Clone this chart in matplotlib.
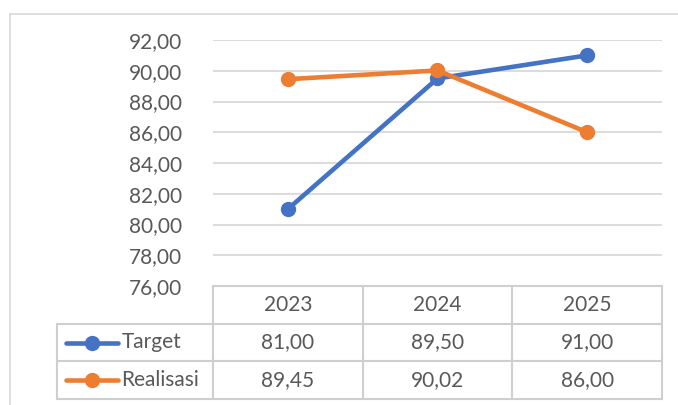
import matplotlib
import matplotlib.pyplot as plt
from matplotlib.lines import Line2D
import numpy as np

plt.rcParams['font.family'] = ['Lato', 'DejaVu Sans']

years = ['2023', '2024', '2025']
target = [81.00, 89.50, 91.00]
realisasi = [89.45, 90.02, 86.00]
series_names = ['Target', 'Realisasi']
colors = ['#4472C4', '#ED7D31']
yticks = np.arange(76, 93, 2)

W, H = 678, 405
txt = '#595959'
grid = '#D9D9D9'
fs = 15


def fmt(v):
    return '{:.2f}'.format(v).replace('.', ',')


fig = plt.figure(figsize=(W / 100, H / 100), dpi=100)

# outer chart frame (top and left edge visible)
fig.add_artist(Line2D([10 / W, 1], [1 - 14 / H] * 2, color=grid, lw=1.2))
fig.add_artist(Line2D([10 / W] * 2, [0, 1 - 14 / H], color=grid, lw=1.2))

# main plot
px0, px1, py0, py1 = 213, 662, 40, 286
ax = fig.add_axes([px0 / W, 1 - py1 / H, (px1 - px0) / W, (py1 - py0) / H])
x = np.arange(len(years))
for vals, c in zip([target, realisasi], colors):
    ax.plot(x, vals, color=c, lw=3.3, marker='o', ms=10, solid_capstyle='round', zorder=3)
ax.set_xlim(-0.5, len(years) - 0.5)
ax.set_ylim(76, 92)
ax.set_yticks(yticks)
ax.set_yticklabels([fmt(v) for v in yticks], color=txt, fontsize=fs)
ax.tick_params(axis='y', length=0, pad=22)
ax.set_xticks([])
for s in ax.spines.values():
    s.set_visible(False)
ax.grid(axis='y', color=grid, lw=1.3)
ax.set_axisbelow(True)

# data table
tx0, ty0, ty1 = 57, 286, 399
colw = (px1 - px0) / len(years)
left = -0.5 - (px0 - tx0) / colw
tab = fig.add_axes([tx0 / W, 1 - ty1 / H, (px1 - tx0) / W, (ty1 - ty0) / H])
tab.set_xlim(left, len(years) - 0.5)
tab.set_ylim(3, 0)
tab.axis('off')
lc = '#CFCFCF'
lw = 1.5
# horizontal lines
tab.plot([-0.5, len(years) - 0.5], [0, 0], color=lc, lw=lw, clip_on=False)
for r in [1, 2, 3]:
    tab.plot([left, len(years) - 0.5], [r, r], color=lc, lw=lw, clip_on=False)
# vertical lines
tab.plot([left, left], [1, 3], color=lc, lw=lw, clip_on=False)
for i in range(len(years) + 1):
    tab.plot([i - 0.5, i - 0.5], [0, 3], color=lc, lw=lw, clip_on=False)

for i, yr in enumerate(years):
    tab.text(i, 0.5, yr, ha='center', va='center', color=txt, fontsize=fs)
for r, (name, vals, c) in enumerate(zip(series_names, [target, realisasi], colors), start=1):
    kx = left + 0.06
    tab.plot([kx, kx + 0.35], [r + 0.5, r + 0.5], color=c, lw=3.3, solid_capstyle='round')
    tab.plot([kx + 0.175], [r + 0.5], color=c, marker='o', ms=10)
    tab.text(kx + 0.37, r + 0.5, name, ha='left', va='center', color=txt, fontsize=fs)
    for i, v in enumerate(vals):
        tab.text(i, r + 0.5, fmt(v), ha='center', va='center', color=txt, fontsize=fs)

fig.savefig('out.png', dpi=100)
